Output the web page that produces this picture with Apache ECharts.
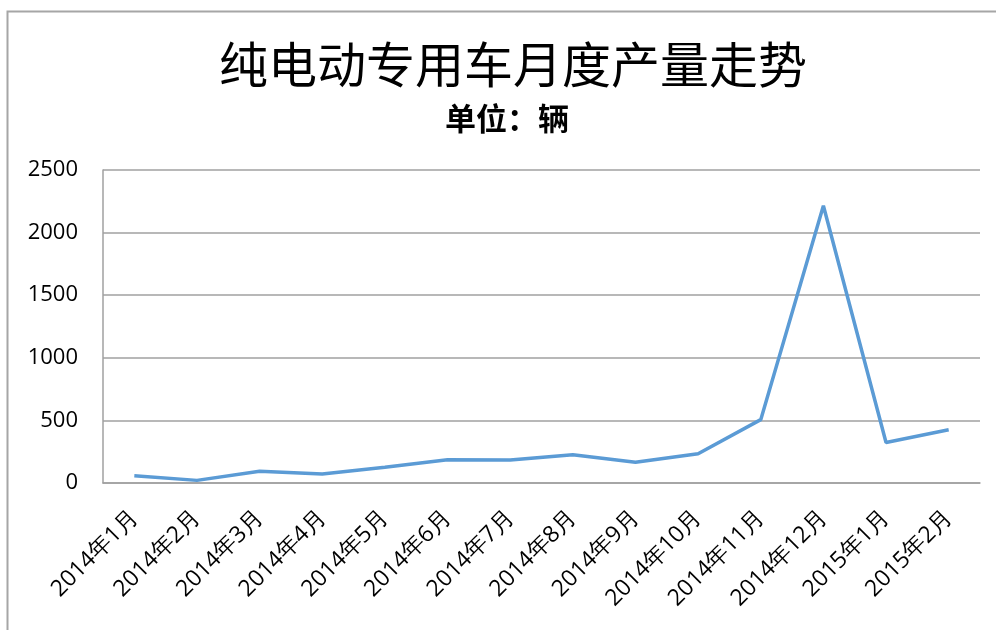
<!DOCTYPE html>
<html><head><meta charset="utf-8">
<script src="https://cdn.jsdelivr.net/npm/echarts@6/dist/echarts.min.js"></script>
<style>html,body{margin:0;padding:0;background:#fff}#c{width:996px;height:630px}</style>
</head><body><div id="c"></div>
<script>
var categories = ['2014年1月','2014年2月','2014年3月','2014年4月','2014年5月','2014年6月','2014年7月','2014年8月','2014年9月','2014年10月','2014年11月','2014年12月','2015年1月','2015年2月'];
var production = [58, 21, 93, 72, 125, 186, 184, 226, 165, 234, 506, 2215, 324, 426];
var titleText = '纯电动专用车月度产量走势';
var subtitleText = '单位：辆';

var chart = echarts.init(document.getElementById('c'));
chart.setOption({
  animation: false,
  backgroundColor: '#fff',
  graphic: [{type:'rect', shape:{x:7.5,y:11.5,width:1100,height:800}, style:{fill:'none', stroke:'#a6a6a6', lineWidth:2}}],
  title: [
    {text: titleText, left: 214, top: 35, textStyle:{fontFamily:'Noto Sans CJK SC', fontSize:49, fontWeight:'normal', color:'#000'}},
    {text: subtitleText, left: 440, top: 98, textStyle:{fontFamily:'Noto Sans CJK SC', fontSize:31, fontWeight:'bold', color:'#000'}}
  ],
  grid: {left: 103, right: 16, top: 170, bottom: 147},
  xAxis: {
    type: 'category', data: categories, boundaryGap: true,
    axisLine: {lineStyle:{color:'#a0a0a0', width:1.5}},
    axisTick: {show:false},
    axisLabel: {rotate:45, interval:0, margin:31, fontFamily:'Open Sans', fontSize:23, color:'#000'}
  },
  yAxis: {
    type: 'value', min: 0, max: 2500, interval: 500,
    axisLine: {show:true, lineStyle:{color:'#a0a0a0', width:1.5}},
    axisTick: {show:false},
    splitLine: {lineStyle:{color:'#a0a0a0', width:1.5}},
    axisLabel: {margin:25, fontFamily:'Open Sans', fontSize:22, color:'#000', formatter: function(v){return String(v);}}
  },
  series: [{type:'line', data: production, symbol:'none', lineStyle:{color:'#5b9bd5', width:3.5}}]
});
</script></body></html>
